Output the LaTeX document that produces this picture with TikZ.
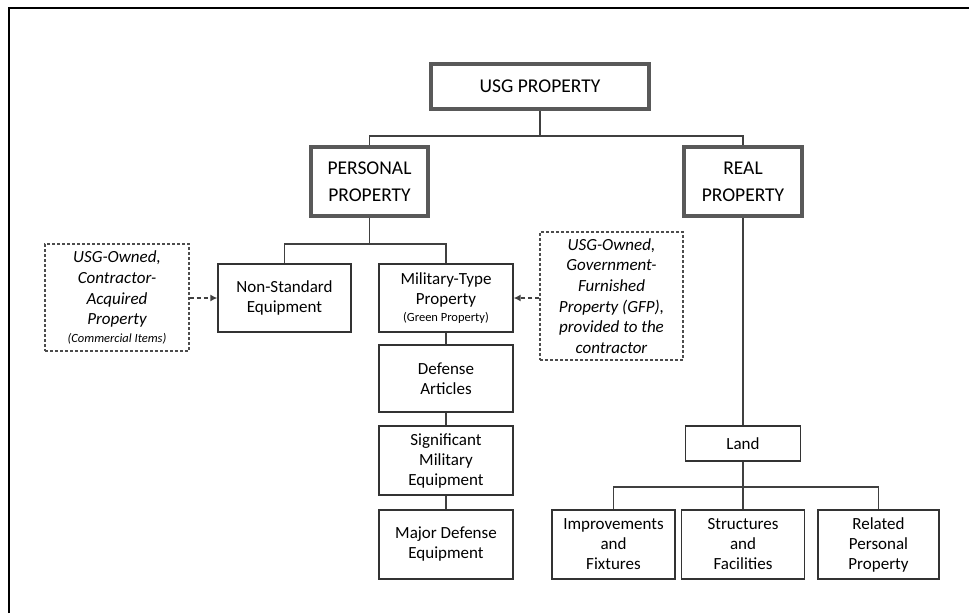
\documentclass[tikz,border=0pt]{standalone}
\usepackage{fontspec}
\setmainfont{Carlito}
\usetikzlibrary{arrows.meta}
\begin{document}
\begin{tikzpicture}[x=1pt,y=-1pt,
    box/.style={draw=black!80,line width=1.3pt,align=center,inner sep=0pt,text=black,
      font=\fontsize{17}{20}\selectfont},
    topbox/.style={box,draw=black!65,line width=3.8pt,
      font=\fontsize{19.5}{27}\selectfont},
    notebox/.style={box,draw=black!70,line width=1.1pt,dash pattern=on 3pt off 2pt,
      font=\fontsize{17}{20.7}\selectfont\itshape},
    link/.style={draw=black!75,line width=1.4pt},
    dasharrow/.style={link,dash pattern=on 4pt off 3pt,-{Latex[length=7pt,width=7pt]}}]
  \useasboundingbox (0,0) rectangle (969,613);
  \draw[line width=2.5pt] (9,613) -- (9,8) -- (969,8);

  \node[topbox,minimum width=218,minimum height=45] (usg) at (540,86.5) {USG PROPERTY};
  \node[topbox,minimum width=117,minimum height=69] (personal) at (369.5,181.5) {PERSONAL\\PROPERTY};
  \node[topbox,minimum width=118,minimum height=69] (real) at (743,181.5) {REAL\\PROPERTY};

  \node[box,minimum width=133,minimum height=68] (nonstd) at (284.5,298) {Non-Standard\\Equipment};
  \node[box,minimum width=134,minimum height=68] (miltype) at (446,298)
    {Military-Type\\Property\\[-3pt]{\fontsize{12.5}{14}\selectfont(Green Property)}};
  \node[box,minimum width=134,minimum height=67] (defart) at (446,378.5) {Defense\\Articles};
  \node[box,minimum width=134,minimum height=69] (sme) at (446,460.5) {Significant\\Military\\Equipment};
  \node[box,minimum width=134,minimum height=69] (mde) at (446,544.5) {Major Defense\\Equipment};

  \node[notebox,minimum width=144,minimum height=107] (cai) at (117,297.5)
    {USG-Owned,\\Contractor-\\Acquired\\Property\\[-3pt]{\fontsize{12.5}{14}\selectfont(Commercial Items)}};
  \node[notebox,minimum width=143,minimum height=128] (gfp) at (611.5,296)
    {USG-Owned,\\Government-\\Furnished\\Property (GFP),\\provided to the\\contractor};

  \node[box,minimum width=115,minimum height=35] (land) at (743,443.5) {Land};
  \node[box,minimum width=123,minimum height=69] (impr) at (613.5,544.5) {Improvements\\and\\Fixtures};
  \node[box,minimum width=123,minimum height=69] (struct) at (743,544.5) {Structures\\and\\Facilities};
  \node[box,minimum width=121,minimum height=69] (related) at (878.5,544.5) {Related\\Personal\\Property};

  \coordinate (bus1) at (540,136);
  \coordinate (bus2) at (369.5,244);
  \coordinate (bus3) at (743,487);

  \draw[link] (usg.south) -- (bus1) -| (personal.north);
  \draw[link] (bus1) -| (real.north);
  \draw[link] (personal.south) -- (bus2) -| (nonstd.north);
  \draw[link] (bus2) -| (miltype.north);
  \draw[link] (miltype.south) -- (defart.north);
  \draw[link] (defart.south) -- (sme.north);
  \draw[link] (sme.south) -- (mde.north);
  \draw[link] (real.south) -- (land.north);
  \draw[link] (land.south) -- (struct.north);
  \draw[link] (bus3) -| (impr.north);
  \draw[link] (bus3) -| (related.north);

  \draw[dasharrow] (cai.east |- nonstd.west) -- (nonstd.west);
  \draw[dasharrow] (gfp.west |- miltype.east) -- (miltype.east);
\end{tikzpicture}
\end{document}
